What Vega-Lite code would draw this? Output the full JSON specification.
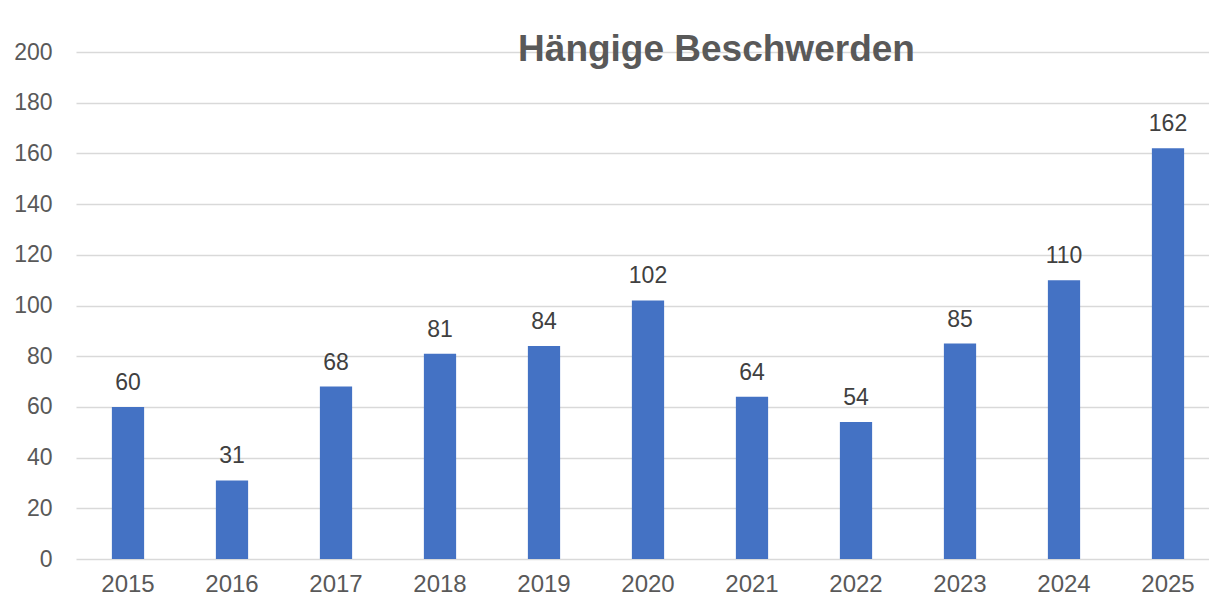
{
  "$schema": "https://vega.github.io/schema/vega-lite/v6.json",
  "autosize": {"type": "none"},
  "width": 1133,
  "height": 507,
  "padding": {"left": 76, "top": 52, "right": 0, "bottom": 40},
  "background": "white",
  "title": {
    "text": "Hängige Beschwerden",
    "fontSize": 37,
    "fontWeight": "bold",
    "color": "#595959",
    "font": "Liberation Sans",
    "anchor": "middle",
    "frame": "group",
    "dx": 74,
    "offset": -28
  },
  "data": {
    "values": [
      {"year": "2015", "value": 60},
      {"year": "2016", "value": 31},
      {"year": "2017", "value": 68},
      {"year": "2018", "value": 81},
      {"year": "2019", "value": 84},
      {"year": "2020", "value": 102},
      {"year": "2021", "value": 64},
      {"year": "2022", "value": 54},
      {"year": "2023", "value": 85},
      {"year": "2024", "value": 110},
      {"year": "2025", "value": 162}
    ]
  },
  "encoding": {
    "x": {
      "field": "year",
      "type": "nominal",
      "sort": null,
      "title": null,
      "scale": {"range": [0, 1144], "paddingInner": 0.69, "paddingOuter": 0.345},
      "axis": {
        "domain": false,
        "ticks": false,
        "labelAngle": 0,
        "labelFont": "Liberation Sans",
        "labelFontSize": 24,
        "labelColor": "#595959",
        "labelPadding": 13
      }
    },
    "y": {
      "field": "value",
      "type": "quantitative",
      "title": null,
      "scale": {"domain": [0, 200], "nice": false},
      "axis": {
        "values": [0, 20, 40, 60, 80, 100, 120, 140, 160, 180, 200],
        "domain": false,
        "ticks": false,
        "gridColor": "#d9d9d9",
        "gridWidth": 1.5,
        "labelFont": "Liberation Sans",
        "labelFontSize": 23,
        "labelColor": "#595959",
        "labelPadding": 24
      }
    }
  },
  "layer": [
    {"mark": {"type": "bar", "color": "#4472C4"}},
    {
      "mark": {
        "type": "text",
        "baseline": "bottom",
        "dy": -12,
        "font": "Liberation Sans",
        "fontSize": 23,
        "color": "#404040"
      },
      "encoding": {"text": {"field": "value", "type": "quantitative"}}
    }
  ],
  "config": {"view": {"stroke": null}}
}
